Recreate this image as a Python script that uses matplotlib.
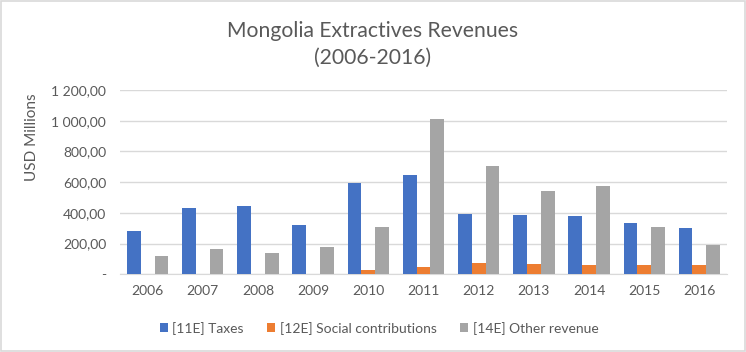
import matplotlib
matplotlib.use("Agg")
import matplotlib.pyplot as plt
import numpy as np
from matplotlib.ticker import FuncFormatter

years = ["2006", "2007", "2008", "2009", "2010", "2011", "2012", "2013", "2014", "2015", "2016"]
taxes = [284, 430, 445, 321, 595, 647, 395, 389, 378, 332, 302]
social = [0, 0, 0, 0, 28, 48, 74, 67, 63, 59, 63]
other = [119, 165, 137, 180, 308, 1012, 704, 543, 576, 310, 193]
series_names = ["[11E] Taxes", "[12E] Social contributions", "[14E] Other revenue"]
colors = ["#4472C4", "#ED7D31", "#A5A5A5"]

plt.rcParams['font.family'] = ['Lato', 'DejaVu Sans']

fig = plt.figure(figsize=(7.46, 3.52), dpi=100)
ax = fig.add_axes([0.1609, 0.2207, 0.8136, 0.5236])

x = np.arange(len(years))
w = 0.25
for i, (vals, name, c) in enumerate(zip([taxes, social, other], series_names, colors)):
    ax.bar(x + (i - 1) * w, vals, width=w, color=c, label=name, zorder=3)

ax.set_xlim(-0.5, len(years) - 0.5)
ax.set_ylim(0, 1200)
ax.set_yticks(np.arange(0, 1201, 200))

def fmt(v, pos):
    if v == 0:
        return "-"
    s = f"{v:,.2f}".replace(",", " ").replace(".", ",")
    return s
ax.yaxis.set_major_formatter(FuncFormatter(fmt))
ax.set_xticks(x)
ax.set_xticklabels(years)

ax.grid(axis='y', color='#D9D9D9', linewidth=1, zorder=0)
for s in ['top', 'right', 'left']:
    ax.spines[s].set_visible(False)
ax.spines['bottom'].set_color('#D9D9D9')
ax.tick_params(axis='both', length=0, colors='#595959', labelsize=10)
ax.tick_params(axis='x', pad=8)
ax.tick_params(axis='y', pad=10)

ax.set_ylabel("USD Millions", color='#595959', fontsize=11)
ax.yaxis.set_label_coords(-0.133, 0.745)

fig.text(0.5, 0.913, "Mongolia Extractives Revenues", ha='center', va='center',
         fontsize=15.2, color='#595959')
fig.text(0.5, 0.836, "(2006-2016)", ha='center', va='center',
         fontsize=15.2, color='#595959')

leg = fig.legend(loc='center', bbox_to_anchor=(0.508, 0.068), ncol=3, frameon=False,
                 fontsize=10, handlelength=0.6, handleheight=0.6, handletextpad=0.3,
                 columnspacing=1.7, labelcolor='#595959')

border = plt.Rectangle((0.001, 0.002), 0.997, 0.995, transform=fig.transFigure,
                       fill=False, edgecolor='#D9D9D9', linewidth=1.2)
fig.patches.append(border)

fig.savefig("out.png", dpi=100)
